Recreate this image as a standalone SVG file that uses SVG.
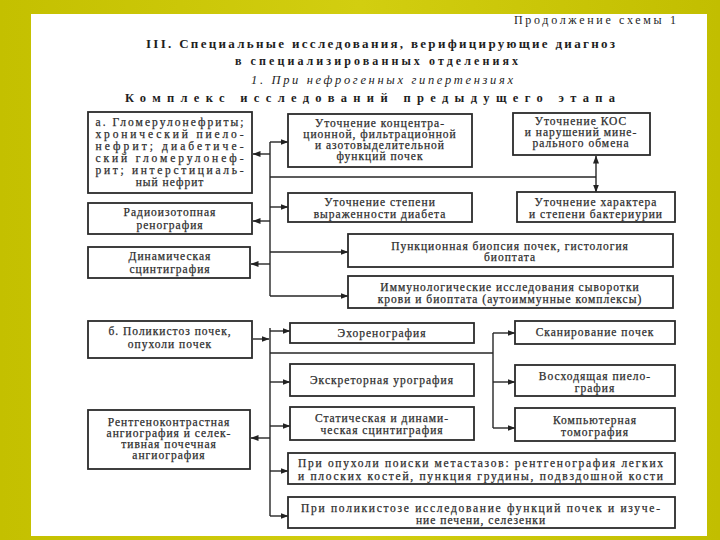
<svg xmlns="http://www.w3.org/2000/svg" width="720" height="540" viewBox="0 0 720 540">
<defs>
<linearGradient id="bg" x1="0" y1="0" x2="1" y2="0">
<stop offset="0" stop-color="#c4c000"/>
<stop offset="0.5" stop-color="#d2ce10"/>
<stop offset="1" stop-color="#c2be00"/>
</linearGradient>
<marker id="ah" markerUnits="userSpaceOnUse" markerWidth="8" markerHeight="6" refX="7.5" refY="3" orient="auto-start-reverse">
<path d="M0,0 L8,3 L0,6 z" fill="#222"/>
</marker>
<style>
.bx{fill:#fff;stroke:#2b2b2b;stroke-width:1.8}
.t{font-family:"Liberation Serif","DejaVu Serif",serif;font-size:11.5px;fill:#262626;stroke:#3a3a3a;stroke-width:0.25;text-anchor:middle;letter-spacing:1px}
.h{font-family:"Liberation Serif","DejaVu Serif",serif;fill:#1e1e1e}
.c{fill:none;stroke:#262626;stroke-width:1.4}
.ca{fill:none;stroke:#262626;stroke-width:1.4;marker-end:url(#ah)}
</style>
</defs>
<rect x="0" y="0" width="720" height="540" fill="url(#bg)"/>
<rect x="31" y="14" width="676" height="522" fill="#fff"/>

<g id="header">
<text class="h" x="514" y="24" font-size="12" textLength="162" lengthAdjust="spacing">Продолжение схемы 1</text>
<text class="h" x="146" y="48" font-size="13" font-weight="bold" textLength="469" lengthAdjust="spacing">III. Специальные исследования, верифицирующие диагноз</text>
<text class="h" x="235" y="65" font-size="12" font-weight="bold" textLength="283" lengthAdjust="spacing">в специализированных отделениях</text>
<text class="h" x="251" y="84" font-size="12.5" font-style="italic" textLength="262" lengthAdjust="spacing">1. При нефрогенных гипертензиях</text>
<text class="h" x="125" y="102" font-size="12.5" font-weight="bold" textLength="490" lengthAdjust="spacing">Комплекс исследований предыдущего этапа</text>
</g>

<g id="connectors">
<line class="c" x1="270" y1="142" x2="270" y2="296"/>
<line class="ca" x1="270" y1="142" x2="288" y2="142"/>
<line class="ca" x1="270" y1="154" x2="253" y2="154"/>
<line class="c" x1="270" y1="177" x2="596" y2="177" stroke-width="2.4"/>
<line class="ca" x1="596" y1="177" x2="596" y2="156"/>
<line class="ca" x1="596" y1="177" x2="596" y2="192"/>
<line class="ca" x1="270" y1="207" x2="288" y2="207"/>
<line class="ca" x1="270" y1="221" x2="253" y2="221"/>
<line class="ca" x1="270" y1="252" x2="348" y2="252"/>
<line class="ca" x1="270" y1="264" x2="251" y2="264"/>
<line class="ca" x1="270" y1="296" x2="348" y2="296"/>

<line class="c" x1="270" y1="328" x2="270" y2="516"/>
<line class="ca" x1="270" y1="331" x2="290" y2="331"/>
<line class="ca" x1="253" y1="339" x2="269" y2="339"/>
<line class="c" x1="270" y1="353" x2="493" y2="353"/>
<line class="c" x1="493" y1="333" x2="493" y2="428"/>
<line class="ca" x1="493" y1="333" x2="515" y2="333"/>
<line class="ca" x1="493" y1="382" x2="515" y2="382"/>
<line class="ca" x1="493" y1="428" x2="515" y2="428"/>
<line class="ca" x1="270" y1="382" x2="290" y2="382"/>
<line class="ca" x1="270" y1="426" x2="290" y2="426"/>
<line class="ca" x1="270" y1="438" x2="251" y2="438"/>
<line class="ca" x1="270" y1="471" x2="288" y2="471"/>
<line class="ca" x1="270" y1="516" x2="288" y2="516"/>
</g>

<g id="nodeA">
<rect class="bx" x="88" y="112" width="164" height="81"/>
<text class="t" x="170" y="126" textLength="149" lengthAdjust="spacing">а. Гломерулонефриты;</text>
<text class="t" x="170" y="138" textLength="149" lengthAdjust="spacing">хронический пиело-</text>
<text class="t" x="170" y="150" textLength="149" lengthAdjust="spacing">нефрит; диабетиче-</text>
<text class="t" x="170" y="162" textLength="149" lengthAdjust="spacing">ский гломерулонеф-</text>
<text class="t" x="170" y="174" textLength="149" lengthAdjust="spacing">рит; интерстициаль-</text>
<text class="t" x="170" y="186">ный нефрит</text>
</g>
<g id="nodeB">
<rect class="bx" x="88" y="203" width="164" height="31"/>
<text class="t" x="170" y="216">Радиоизотопная</text>
<text class="t" x="170" y="229">ренография</text>
</g>
<g id="nodeC">
<rect class="bx" x="88" y="247" width="162" height="31"/>
<text class="t" x="170" y="260">Динамическая</text>
<text class="t" x="170" y="273">сцинтиграфия</text>
</g>
<g id="nodeD">
<rect class="bx" x="288" y="114" width="184" height="53"/>
<text class="t" x="380" y="127">Уточнение концентра-</text>
<text class="t" x="380" y="138">ционной, фильтрационной</text>
<text class="t" x="380" y="149">и азотовыделительной</text>
<text class="t" x="380" y="160">функций почек</text>
</g>
<g id="nodeE">
<rect class="bx" x="513" y="113" width="137" height="42"/>
<text class="t" x="581" y="125">Уточнение КОС</text>
<text class="t" x="581" y="136">и нарушений мине-</text>
<text class="t" x="581" y="147">рального обмена</text>
</g>
<g id="nodeF">
<rect class="bx" x="288" y="193" width="184" height="29"/>
<text class="t" x="380" y="206">Уточнение степени</text>
<text class="t" x="380" y="218">выраженности диабета</text>
</g>
<g id="nodeG">
<rect class="bx" x="517" y="192" width="158" height="30"/>
<text class="t" x="596" y="206">Уточнение характера</text>
<text class="t" x="596" y="218">и степени бактериурии</text>
</g>
<g id="nodeH">
<rect class="bx" x="348" y="234" width="325" height="33"/>
<text class="t" x="510" y="250">Пункционная биопсия почек, гистология</text>
<text class="t" x="510" y="261">биоптата</text>
</g>
<g id="nodeI">
<rect class="bx" x="348" y="276" width="325" height="32"/>
<text class="t" x="510" y="291">Иммунологические исследования сыворотки</text>
<text class="t" x="510" y="303">крови и биоптата (аутоиммунные комплексы)</text>
</g>
<g id="nodeJ">
<rect class="bx" x="88" y="321" width="164" height="37"/>
<text class="t" x="170" y="335">б. Поликистоз почек,</text>
<text class="t" x="170" y="348">опухоли почек</text>
</g>
<g id="nodeK">
<rect class="bx" x="290" y="323" width="184" height="20"/>
<text class="t" x="382" y="337">Эхоренография</text>
</g>
<g id="nodeL">
<rect class="bx" x="515" y="321" width="160" height="23"/>
<text class="t" x="595" y="336">Сканирование почек</text>
</g>
<g id="nodeM">
<rect class="bx" x="290" y="364" width="184" height="32"/>
<text class="t" x="382" y="384">Экскреторная урография</text>
</g>
<g id="nodeN">
<rect class="bx" x="515" y="365" width="160" height="31"/>
<text class="t" x="595" y="380">Восходящая пиело-</text>
<text class="t" x="595" y="392">графия</text>
</g>
<g id="nodeO">
<rect class="bx" x="290" y="407" width="184" height="33"/>
<text class="t" x="382" y="422">Статическая и динами-</text>
<text class="t" x="382" y="434">ческая сцинтиграфия</text>
</g>
<g id="nodeP">
<rect class="bx" x="515" y="408" width="160" height="33"/>
<text class="t" x="595" y="424">Компьютерная</text>
<text class="t" x="595" y="436">томография</text>
</g>
<g id="nodeQ">
<rect class="bx" x="88" y="410" width="162" height="59"/>
<text class="t" x="169" y="426">Рентгеноконтрастная</text>
<text class="t" x="169" y="437">ангиография и селек-</text>
<text class="t" x="169" y="448">тивная почечная</text>
<text class="t" x="169" y="459">ангиография</text>
</g>
<g id="nodeR">
<rect class="bx" x="288" y="453" width="387" height="31"/>
<text class="t" x="481" y="467" textLength="366" lengthAdjust="spacing">При опухоли поиски метастазов: рентгенография легких</text>
<text class="t" x="481" y="480" textLength="366" lengthAdjust="spacing">и плоских костей, пункция грудины, подвздошной кости</text>
</g>
<g id="nodeS">
<rect class="bx" x="288" y="497" width="387" height="31"/>
<text class="t" x="481" y="512" textLength="360" lengthAdjust="spacing">При поликистозе исследование функций почек и изуче-</text>
<text class="t" x="481" y="524">ние печени, селезенки</text>
</g>
</svg>
